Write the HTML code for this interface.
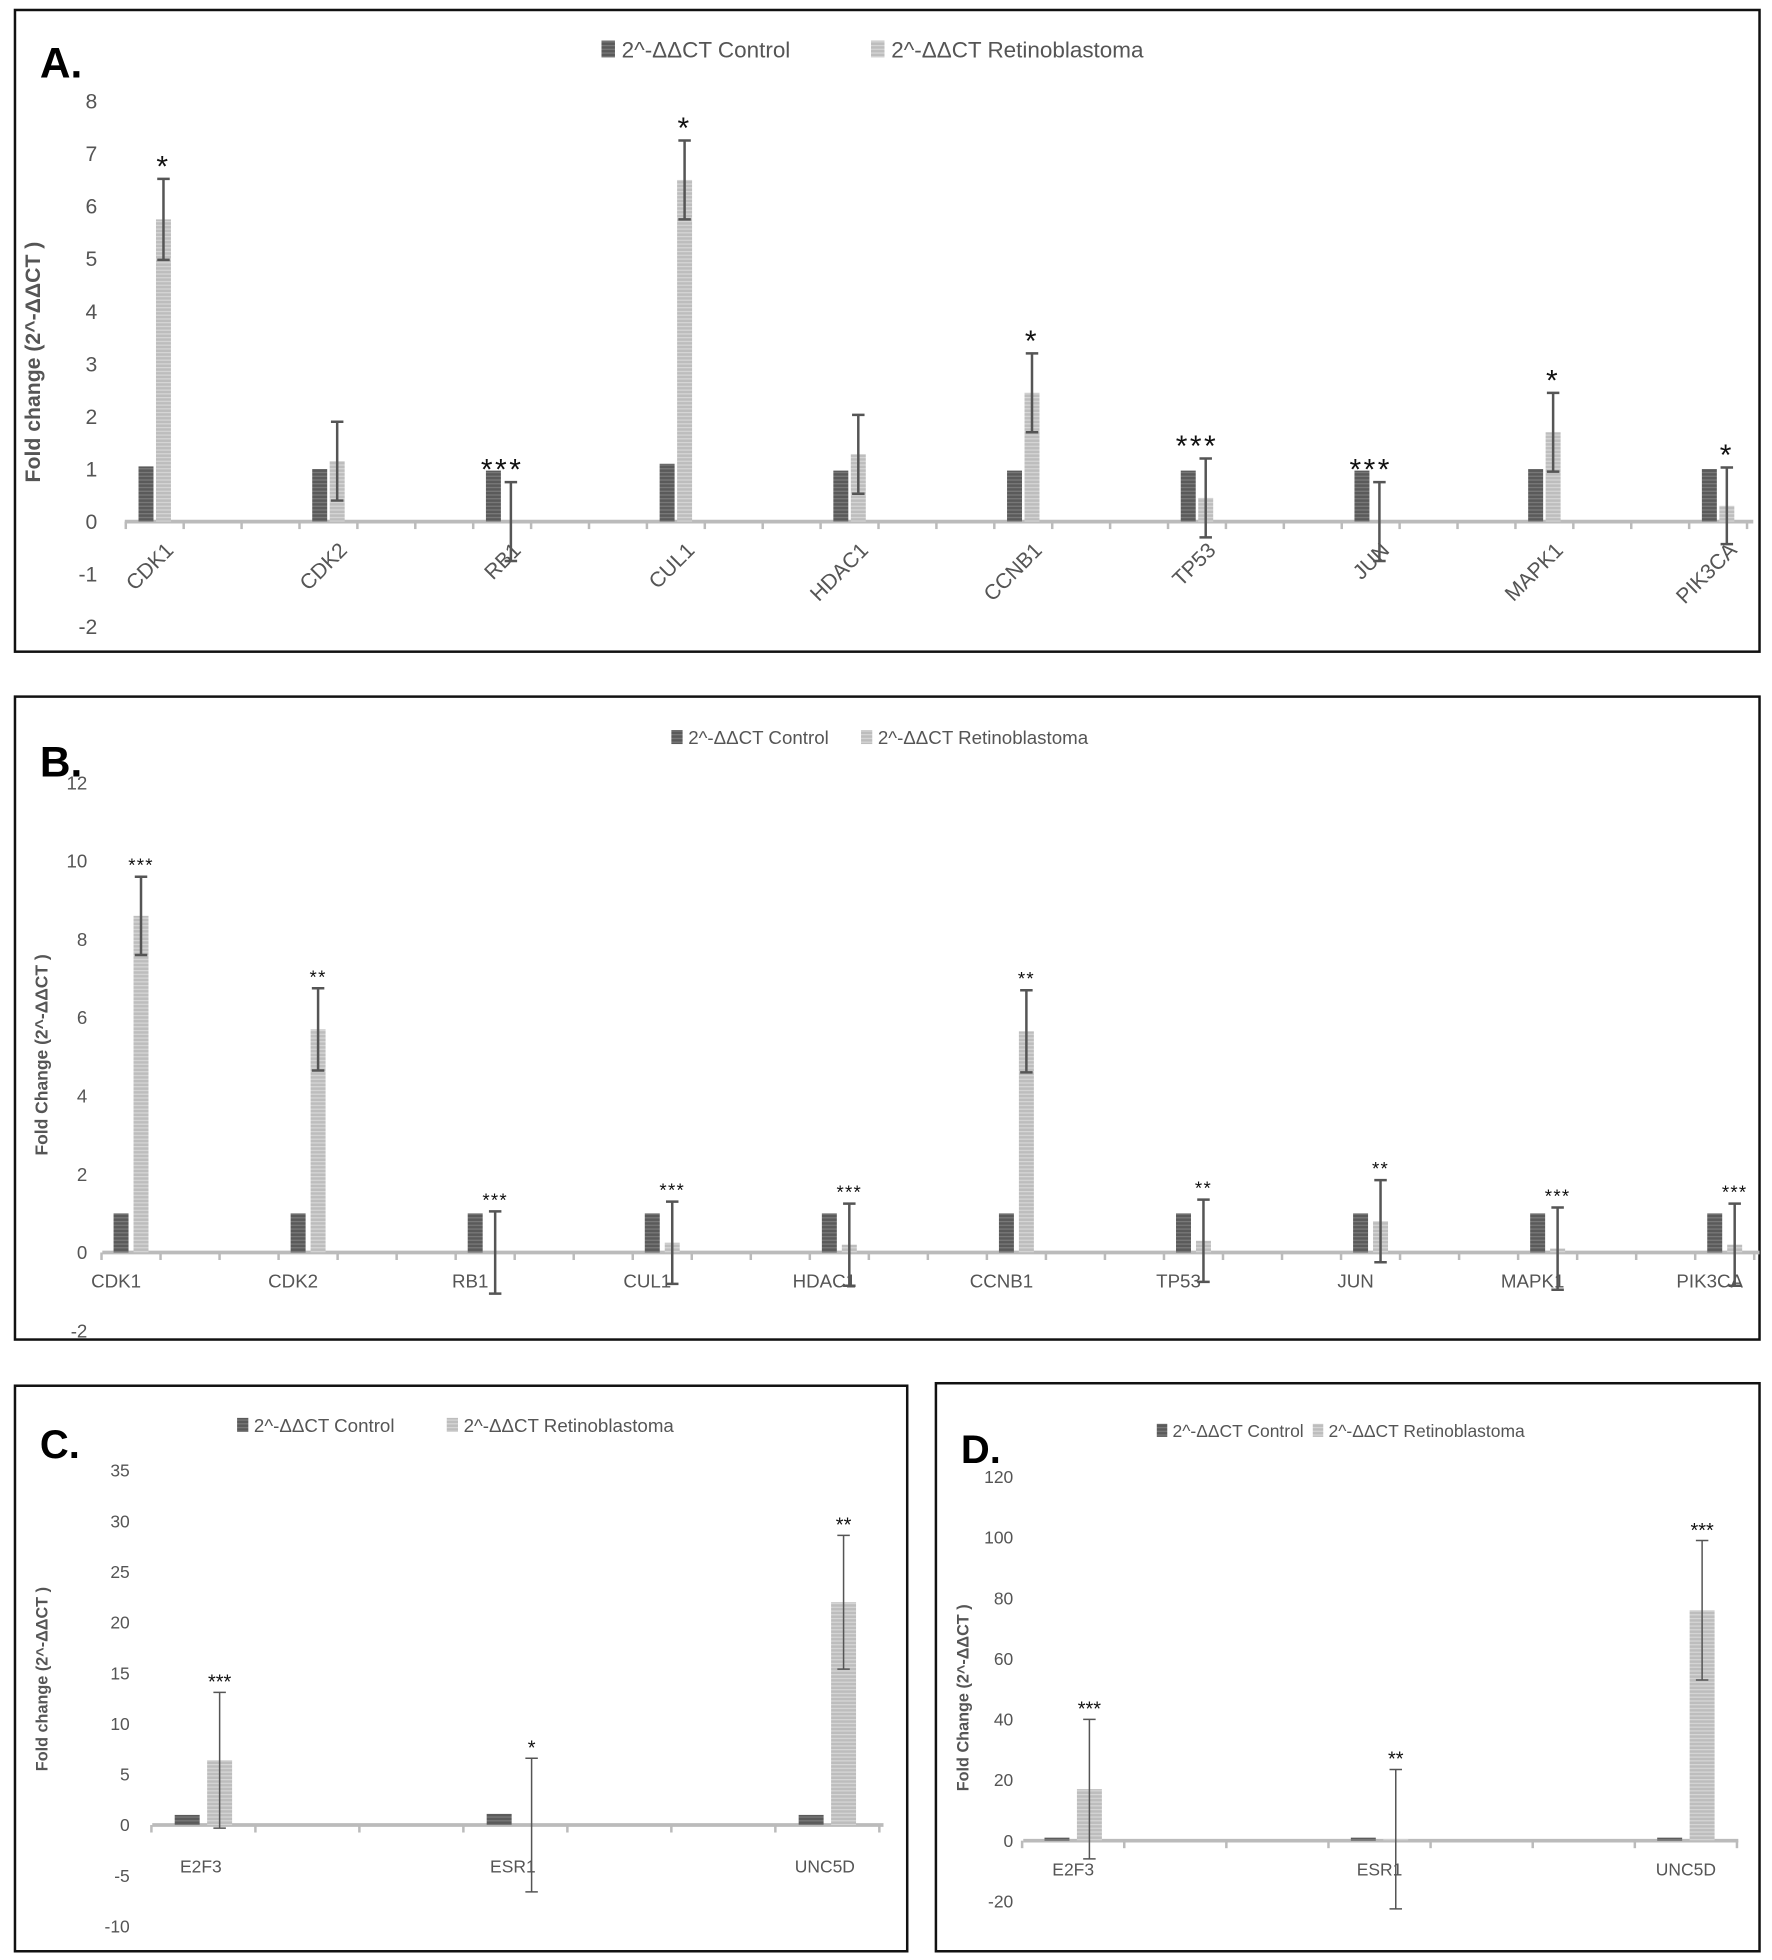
<!DOCTYPE html>
<html><head><meta charset="utf-8">
<style>
html,body{margin:0;padding:0;background:#fff;}
svg{display:block;font-family:"Liberation Sans",sans-serif;}
</style></head>
<body>
<svg id="fig" width="1772" height="1960" viewBox="0 0 1420 1570" preserveAspectRatio="none" xmlns="http://www.w3.org/2000/svg">
<defs>
<pattern id="pd" width="4" height="3" patternUnits="userSpaceOnUse"><rect width="4" height="3" fill="#5a5a5a"/><rect width="4" height="1" fill="#7a7a7a"/></pattern>
<pattern id="pl" width="4" height="3" patternUnits="userSpaceOnUse"><rect width="4" height="3" fill="#bdbdbd"/><rect width="4" height="1" fill="#d6d6d6"/></pattern>
</defs>
</svg>
<script>
// ---- Panel A data ----
const catsA = ["CDK1","CDK2","RB1","CUL1","HDAC1","CCNB1","TP53","JUN","MAPK1","PIK3CA"];
const ctrlA = [1.05,1.0,0.97,1.1,0.97,0.97,0.97,0.97,1.0,1.0];
const retA = [5.75,1.15,0,6.5,1.28,2.45,0.45,0,1.7,0.3];
const errA = [0.77,0.75,0.75,0.75,0.75,0.75,0.75,0.75,0.75,0.73];
const starsA = ["*","","***","*","","*","***","***","*","*"];
const ticksA = [-2,-1,0,1,2,3,4,5,6,7,8];
// ---- Panel B data ----
const catsB = ["CDK1","CDK2","RB1","CUL1","HDAC1","CCNB1","TP53","JUN","MAPK1","PIK3CA"];
const ctrlB = [1,1,1,1,1,1,1,1,1,1];
const retB = [8.6,5.7,0,0.25,0.2,5.65,0.3,0.8,0.1,0.2];
const errB = [1.0,1.05,1.05,1.05,1.05,1.05,1.05,1.05,1.05,1.05];
const starsB = ["***","**","***","***","***","**","**","**","***","***"];
const ticksB = [-2,0,2,4,6,8,10,12];
// ---- Panel C data ----
const catsC = ["E2F3","ESR1","UNC5D"];
const ctrlC = [1,1.1,1];
const retC = [6.4,0,22];
const errC = [6.7,6.6,6.6];
const starsC = ["***","*","**"];
const ticksC = [-10,-5,0,5,10,15,20,25,30,35];
// ---- Panel D data ----
const catsD = ["E2F3","ESR1","UNC5D"];
const ctrlD = [1,1,1];
const retD = [17,0.5,76];
const errD = [23,23,23];
const starsD = ["***","**","***"];
const ticksD = [-20,0,20,40,60,80,100,120];

const NS="http://www.w3.org/2000/svg";
const svg=document.getElementById('fig');
function mk(tag,attrs,parent){const e=document.createElementNS(NS,tag);for(const k in attrs)e.setAttribute(k,attrs[k]);(parent||svg).appendChild(e);return e;}

function panel(p){
  const g=mk('g',{});
  
  
  const fr=mk('rect',{x:p.box[0],y:p.box[1],width:p.box[2]-p.box[0],height:p.box[3]-p.box[1],fill:'none',stroke:'#111','stroke-width':2},g);
  
  
  const lt=mk('text',{x:p.letter[0],y:p.letter[1],'font-size':p.letterSize,'font-weight':'bold',fill:'#000'},g);
  lt.textContent=p.id+'.';
  
  
  const yv=v=>p.y0-(v-p.vmin)/(p.vmax-p.vmin)*(p.y0-p.y1);
  const y0=yv(0);
  p.ticks.forEach(t=>{
    const tt=mk('text',{x:p.tickX,y:yv(t)+p.fs*0.35,'font-size':p.fs,fill:'#555','text-anchor':'end'},g);
    tt.textContent=t;
    
    
  });
  const yt=mk('text',{x:0,y:0,'font-size':p.titleSize,'font-weight':'bold',fill:'#555','text-anchor':'middle',transform:`translate(${p.titleX},${p.titleY}) rotate(-90)`},g);
  yt.textContent=p.title;
  
  
  const ax=mk('line',{x1:p.ax0,x2:p.ax1,y1:y0,y2:y0,stroke:'#bbb','stroke-width':3},g);
  
  
  const n=p.cats.length, step=p.step;
  const start=p.c0-step/2;
  for(let i=0;i<=n*p.sub;i++){
    const tx=start+i*step/p.sub;
    if(tx<p.ax0-1||tx>p.ax1+1) continue;
    const tk=mk('line',{x1:tx,x2:tx,y1:y0,y2:y0+6,stroke:'#bbb','stroke-width':2},g);
    
    
  }
  p.cats.forEach((c,i)=>{
    const cx=p.c0+i*step;
    const xc=cx-p.off, xr=cx+p.off;
    const bc=mk('rect',{x:xc-p.bw/2,y:yv(p.ctrl[i]),width:p.bw,height:y0-yv(p.ctrl[i]),fill:'url(#pd)'},g);
    
    
    const hr=Math.max(0,y0-yv(p.ret[i]));
    const br=mk('rect',{x:xr-p.bw/2,y:y0-hr,width:p.bw,height:hr,fill:'url(#pl)'},g);
    
    
    const top=yv(p.ret[i]+p.err[i]), bot=yv(p.ret[i]-p.err[i]);
    const eb=mk('path',{d:`M${xr},${top}V${bot}M${xr-5},${top}H${xr+5}M${xr-5},${bot}H${xr+5}`,stroke:'#555','stroke-width':p.ew,fill:'none'},g);
    
    
    if(p.stars[i]){
      const st=mk('text',{x:p.starOnCtrl&&p.stars[i].length>2?cx:xr,y:top-p.starGap,'font-size':p.starSize,fill:'#111','text-anchor':'middle','letter-spacing':p.starSp},g);
      st.textContent=p.stars[i];
      
      
    }
    let lx=cx+p.lblDx, ly=y0+p.lblDy;
    const lb=mk('text',{x:lx,y:ly,'font-size':p.fs,fill:'#555','text-anchor':p.rot?'end':'middle',transform:p.rot?`rotate(-45 ${lx} ${ly})`:''},g);
    lb.textContent=c;
    
    
  });
  const L=p.legend;
  const s1=mk('rect',{x:L[0],y:L[1]-L[2]*0.75,width:L[2]*0.6,height:L[2]*0.75,fill:'url(#pd)'},g);
  
  
  const t1=mk('text',{x:L[0]+L[2]*0.9,y:L[1],'font-size':L[2],fill:'#555'},g);
  t1.textContent='2^-ΔΔCT  Control';
  
  
  const s2=mk('rect',{x:L[3],y:L[1]-L[2]*0.75,width:L[2]*0.6,height:L[2]*0.75,fill:'url(#pl)'},g);
  
  
  const t2=mk('text',{x:L[3]+L[2]*0.9,y:L[1],'font-size':L[2],fill:'#555'},g);
  t2.textContent='2^-ΔΔCT  Retinoblastoma';
  
  
}

panel({id:'A',box:[12,8,1410,522],letter:[32,62],letterSize:34,cats:catsA,ctrl:ctrlA,ret:retA,err:errA,stars:starsA,ticks:ticksA,
  vmin:-2,vmax:8,y0:502,y1:81,tickX:78,fs:17,title:'Fold change (2^-ΔΔCT )',titleSize:17,titleX:32,titleY:290,
  ax0:100,ax1:1405,c0:124,step:139.2,sub:3,off:7,bw:12,ew:2,starSize:24,starSp:2,starGap:2,starOnCtrl:true,lblDx:16,lblDy:24,rot:true,legend:[482,46,18,698]});
panel({id:'B',box:[12,558,1410,1073],letter:[32,622],letterSize:34,cats:catsB,ctrl:ctrlB,ret:retB,err:errB,stars:starsB,ticks:ticksB,
  vmin:-2,vmax:12,y0:1066,y1:627,tickX:70,fs:15,title:'Fold Change (2^-ΔΔCT )',titleSize:14,titleX:38,titleY:845,
  ax0:82,ax1:1410,c0:105,step:141.9,sub:3,off:8,bw:12,ew:2,starSize:15,starSp:1,starGap:4,starOnCtrl:false,lblDx:-12,lblDy:28,rot:false,legend:[538,596,15,690]});
panel({id:'C',box:[12,1110,727,1563],letter:[32,1168],letterSize:32,cats:catsC,ctrl:ctrlC,ret:retC,err:errC,stars:starsC,ticks:ticksC,
  vmin:-10,vmax:35,y0:1543,y1:1178,tickX:104,fs:14,title:'Fold change (2^-ΔΔCT )',titleSize:13,titleX:38,titleY:1345,
  ax0:122,ax1:708,c0:163,step:250,sub:3,off:13,bw:20,ew:1.2,starSize:16,starSp:0,starGap:3,starOnCtrl:false,lblDx:-2,lblDy:38,rot:false,legend:[190,1147,15,358]});
panel({id:'D',box:[750,1108,1410,1563],letter:[770,1172],letterSize:32,cats:catsD,ctrl:ctrlD,ret:retD,err:errD,stars:starsD,ticks:ticksD,
  vmin:-20,vmax:120,y0:1523,y1:1183,tickX:812,fs:14,title:'Fold Change (2^-ΔΔCT )',titleSize:13,titleX:776,titleY:1360,
  ax0:820,ax1:1393,c0:860,step:245.5,sub:3,off:13,bw:20,ew:1.2,starSize:16,starSp:0,starGap:3,starOnCtrl:false,lblDx:0,lblDy:28,rot:false,legend:[927,1151,14,1052]});
</script>
</body></html>
